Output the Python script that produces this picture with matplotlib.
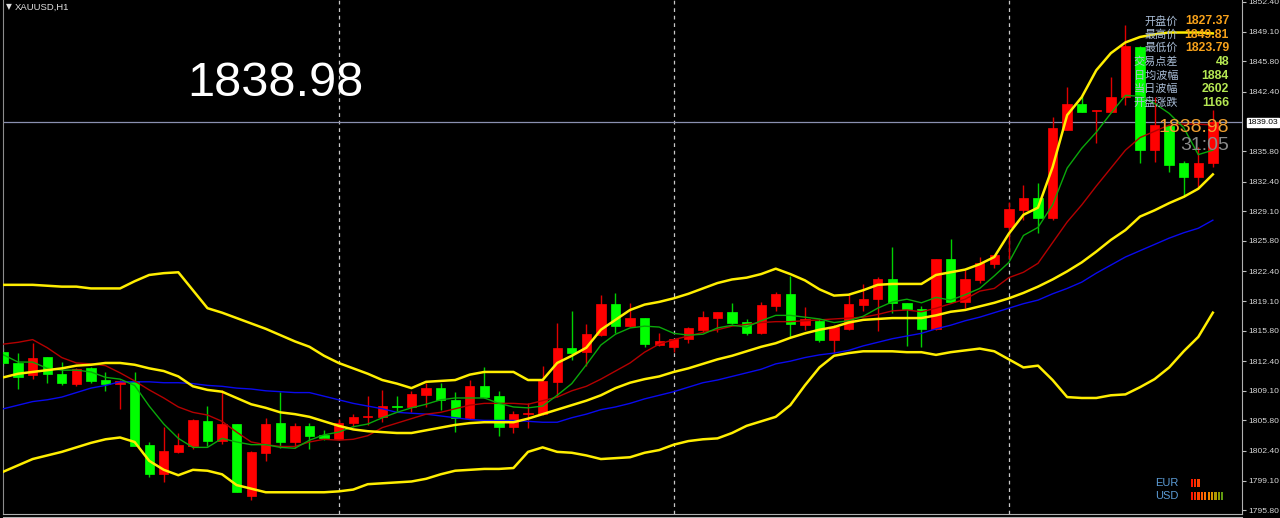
import matplotlib
matplotlib.use("Agg")
import matplotlib.pyplot as plt
import matplotlib.transforms as mtransforms
from matplotlib.lines import Line2D
import numpy as np

W, H = 1280, 518

symbol = "XAUUSD,H1"

opens = [1813.42, 1812.19, 1810.86, 1812.86, 1810.97, 1809.85, 1811.64, 1810.30, 1809.85, 1810.19,
         1803.06, 1799.83, 1802.28, 1802.95, 1805.73, 1803.51, 1805.40, 1797.38, 1802.17, 1805.51,
         1803.40, 1805.18, 1804.17, 1803.73, 1805.51, 1806.18, 1806.18, 1807.40, 1807.29, 1808.63,
         1809.41, 1808.07, 1806.07, 1809.63, 1808.52, 1805.07, 1806.51, 1806.51, 1810.08, 1813.86,
         1813.42, 1815.31, 1818.76, 1816.31, 1817.20, 1814.20, 1813.97, 1814.86, 1815.87, 1817.20,
         1817.87, 1816.76, 1815.53, 1818.54, 1819.88, 1816.42, 1816.87, 1814.75, 1815.98, 1818.65,
         1819.32, 1821.55, 1818.87, 1818.21, 1815.98, 1823.77, 1818.99, 1821.44, 1823.22, 1827.37,
         1829.23, 1830.57, 1828.34, 1838.14, 1841.03, 1840.26, 1840.14, 1841.81, 1847.38, 1835.91,
         1838.58, 1834.46, 1832.90, 1834.46]
highs = [1813.86, 1813.31, 1814.42, 1812.90, 1812.30, 1811.60, 1811.70, 1811.19, 1810.25, 1811.19,
         1803.40, 1805.07, 1804.40, 1805.96, 1807.40, 1809.19, 1805.45, 1802.35, 1806.07, 1808.96,
         1805.51, 1805.51, 1804.74, 1805.96, 1806.51, 1808.52, 1809.19, 1808.52, 1809.08, 1809.97,
         1809.97, 1808.96, 1810.30, 1811.75, 1809.08, 1806.85, 1807.74, 1811.86, 1816.65, 1817.98,
         1816.54, 1819.77, 1819.99, 1818.87, 1817.25, 1815.53, 1814.90, 1816.15, 1817.98, 1817.92,
         1818.87, 1817.09, 1818.99, 1820.10, 1821.88, 1818.43, 1817.09, 1816.42, 1819.88, 1820.99,
         1821.77, 1825.11, 1818.90, 1818.54, 1823.80, 1826.00, 1822.55, 1824.00, 1824.25, 1830.12,
         1832.01, 1832.24, 1839.59, 1842.93, 1841.93, 1840.40, 1844.04, 1849.81, 1847.49, 1841.81,
         1838.70, 1834.69, 1836.25, 1840.37]
lows = [1811.86, 1809.30, 1810.41, 1809.97, 1809.74, 1809.63, 1809.97, 1809.08, 1807.07, 1802.90,
        1799.50, 1798.94, 1802.17, 1802.61, 1802.95, 1803.17, 1797.80, 1796.94, 1801.28, 1802.73,
        1802.73, 1802.61, 1803.62, 1803.62, 1805.07, 1805.29, 1805.62, 1806.85, 1806.74, 1807.29,
        1806.96, 1804.51, 1806.00, 1808.35, 1804.06, 1804.40, 1804.96, 1806.40, 1808.41, 1812.53,
        1811.86, 1815.25, 1815.53, 1816.25, 1813.97, 1814.09, 1813.42, 1814.42, 1815.64, 1815.64,
        1816.54, 1815.31, 1815.48, 1817.98, 1815.09, 1815.87, 1814.53, 1813.31, 1815.90, 1817.98,
        1815.75, 1817.76, 1814.09, 1813.97, 1815.90, 1818.87, 1818.32, 1821.10, 1822.77, 1823.79,
        1828.12, 1826.67, 1828.12, 1838.10, 1840.10, 1836.69, 1840.10, 1840.92, 1834.46, 1834.58,
        1833.46, 1830.68, 1831.57, 1834.02]
closes = [1812.19, 1810.63, 1812.75, 1810.97, 1809.97, 1811.52, 1810.19, 1809.85, 1810.19, 1802.95,
          1799.83, 1802.39, 1803.06, 1805.85, 1803.51, 1805.40, 1797.83, 1802.28, 1805.40, 1803.40,
          1805.18, 1804.06, 1803.84, 1805.51, 1806.18, 1806.29, 1807.40, 1807.29, 1808.74, 1809.41,
          1808.07, 1806.07, 1809.63, 1808.41, 1805.07, 1806.51, 1806.62, 1810.19, 1813.86, 1813.31,
          1815.42, 1818.76, 1816.31, 1817.20, 1814.31, 1814.64, 1814.86, 1816.09, 1817.31, 1817.87,
          1816.65, 1815.53, 1818.65, 1819.88, 1816.54, 1817.09, 1814.75, 1816.20, 1818.76, 1819.32,
          1821.55, 1818.87, 1818.21, 1815.98, 1823.77, 1818.99, 1821.55, 1823.33, 1824.22, 1829.34,
          1830.57, 1828.34, 1838.36, 1841.03, 1840.14, 1840.37, 1841.81, 1847.49, 1835.91, 1838.70,
          1834.24, 1832.90, 1834.46, 1838.98]

bb_upper = [1820.9, 1820.9, 1820.9, 1820.8, 1820.7, 1820.7, 1820.5, 1820.5, 1820.5, 1821.3,
            1822.0, 1822.2, 1822.3, 1820.3, 1818.3, 1817.8, 1817.2, 1816.6, 1816.0, 1815.3,
            1814.6, 1814.0, 1813.0, 1812.2, 1811.6, 1811.0, 1810.3, 1809.9, 1809.4, 1810.1,
            1810.2, 1810.3, 1810.9, 1811.2, 1811.2, 1811.2, 1810.3, 1810.3, 1812.2, 1813.0,
            1813.9, 1815.9, 1817.0, 1818.1, 1818.7, 1819.0, 1819.4, 1819.9, 1820.5, 1821.1,
            1821.5, 1821.7, 1822.1, 1822.7, 1822.1, 1821.4, 1820.4, 1819.7, 1819.8, 1820.3,
            1820.9, 1821.0, 1821.0, 1821.0, 1822.0, 1822.3, 1822.6, 1823.2, 1824.0, 1826.6,
            1828.7, 1829.5, 1834.0, 1839.8, 1841.8, 1844.8, 1846.7, 1847.9, 1848.5, 1848.8,
            1849.0, 1849.0, 1849.0, 1848.9]
bb_middle = [1810.6, 1811.0, 1811.2, 1811.4, 1811.6, 1811.9, 1812.0, 1812.2, 1812.2, 1812.0,
             1811.6, 1811.3, 1810.7, 1809.6, 1809.2, 1809.0, 1808.3, 1807.6, 1807.2, 1806.7,
             1806.5, 1806.2, 1805.7, 1805.2, 1804.8, 1804.6, 1804.5, 1804.4, 1804.4, 1804.7,
             1805.0, 1805.3, 1805.5, 1805.6, 1805.6, 1805.6, 1806.0, 1806.5, 1807.0, 1807.5,
             1808.0, 1808.6, 1809.4, 1810.0, 1810.4, 1810.7, 1811.2, 1811.6, 1812.1, 1812.6,
             1813.0, 1813.5, 1814.0, 1814.4, 1815.0, 1815.5, 1815.9, 1816.2, 1816.7, 1817.0,
             1817.1, 1817.2, 1817.2, 1817.2, 1817.5, 1817.9, 1818.1, 1818.5, 1818.9, 1819.4,
             1820.0, 1820.7, 1821.5, 1822.4, 1823.4, 1824.6, 1825.9, 1827.0, 1828.5, 1829.2,
             1830.0, 1830.7, 1831.6, 1833.2]
bb_lower = [1800.1, 1800.8, 1801.5, 1801.9, 1802.3, 1802.8, 1803.3, 1803.7, 1803.9, 1803.4,
            1801.3, 1800.3, 1799.7, 1800.3, 1800.2, 1799.8, 1798.6, 1798.2, 1797.8, 1797.8,
            1797.8, 1797.8, 1797.8, 1797.9, 1798.1, 1798.7, 1798.8, 1798.9, 1799.0, 1799.3,
            1799.8, 1800.2, 1800.3, 1800.4, 1800.4, 1800.5, 1802.3, 1802.8, 1802.3, 1802.2,
            1801.9, 1801.5, 1801.6, 1801.7, 1802.2, 1802.5, 1803.1, 1803.5, 1803.7, 1803.8,
            1804.4, 1805.2, 1805.7, 1806.2, 1807.5, 1809.7, 1811.7, 1813.0, 1813.3, 1813.5,
            1813.5, 1813.5, 1813.4, 1813.4, 1813.1, 1813.4, 1813.6, 1813.8, 1813.5, 1812.6,
            1811.7, 1811.9, 1810.3, 1808.4, 1808.3, 1808.3, 1808.6, 1808.7, 1809.5, 1810.4,
            1811.7, 1813.5, 1815.1, 1817.8]
ma_blue = [1807.1, 1807.5, 1807.9, 1808.1, 1808.4, 1808.9, 1809.4, 1809.7, 1810.1, 1810.1,
           1810.1, 1810.0, 1810.0, 1809.9, 1809.7, 1809.6, 1809.4, 1809.3, 1809.1, 1809.0,
           1808.9, 1808.9, 1808.5, 1808.1, 1807.7, 1807.4, 1807.1, 1806.7, 1806.6, 1806.5,
           1806.3, 1806.1, 1805.9, 1805.8, 1805.8, 1805.8, 1805.7, 1805.6, 1805.6, 1806.1,
           1806.5, 1807.0, 1807.3, 1807.7, 1808.2, 1808.6, 1809.0, 1809.5, 1810.0, 1810.3,
           1810.7, 1811.1, 1811.5, 1812.1, 1812.4, 1812.8, 1813.1, 1813.3, 1813.6, 1814.1,
           1814.5, 1814.9, 1815.2, 1815.5, 1816.0, 1816.4, 1816.9, 1817.3, 1817.8, 1818.3,
           1818.8, 1819.2, 1819.9, 1820.5, 1821.2, 1822.2, 1823.1, 1824.0, 1824.7, 1825.4,
           1826.1, 1826.7, 1827.2, 1828.1]
ma_red = [1814.3, 1814.5, 1814.8, 1813.9, 1812.8, 1812.2, 1812.1, 1811.9, 1811.1, 1810.2,
          1809.2, 1808.3, 1807.3, 1806.7, 1806.4, 1805.7, 1804.5, 1803.4, 1803.1, 1802.9,
          1802.9, 1803.4, 1803.7, 1803.6, 1803.7, 1804.1, 1805.0, 1805.5, 1806.0, 1806.5,
          1806.7, 1807.1, 1807.5, 1807.7, 1807.7, 1807.7, 1807.6, 1808.0, 1808.4, 1809.1,
          1809.6, 1810.4, 1811.3, 1812.2, 1813.4, 1814.3, 1814.8, 1815.2, 1815.6, 1815.9,
          1816.3, 1816.5, 1816.7, 1816.8, 1816.8, 1816.9, 1817.0, 1817.1, 1817.2, 1817.3,
          1817.6, 1818.0, 1818.1, 1817.9, 1818.3, 1818.8, 1819.3, 1820.2, 1820.5, 1821.7,
          1822.3, 1823.3, 1825.6, 1827.9, 1829.8, 1831.9, 1833.9, 1835.9, 1837.3, 1838.0,
          1838.7, 1838.8, 1838.8, 1838.7]
ma_green = [1813.1, 1812.3, 1812.3, 1811.6, 1811.4, 1811.4, 1811.2, 1810.6, 1810.4, 1809.7,
            1807.4, 1805.4, 1803.8, 1802.8, 1802.8, 1803.8, 1803.4, 1803.1, 1803.1, 1802.8,
            1802.7, 1803.6, 1804.2, 1804.5, 1805.1, 1805.4, 1806.1, 1806.7, 1807.2, 1807.6,
            1808.1, 1808.3, 1808.3, 1808.3, 1807.7, 1807.3, 1807.2, 1807.4, 1808.6, 1809.9,
            1812.0, 1814.2, 1815.4, 1816.1, 1816.3, 1816.2, 1815.5, 1815.3, 1815.4, 1816.1,
            1816.4, 1816.2, 1816.9, 1817.5, 1817.5, 1817.3, 1817.1, 1816.7, 1816.9, 1817.4,
            1818.3, 1819.0, 1819.3, 1818.9, 1819.5, 1819.2, 1819.8, 1820.5, 1821.9, 1823.4,
            1826.4, 1827.3, 1829.8, 1833.9, 1836.1, 1837.9, 1840.0, 1842.0, 1841.9, 1841.1,
            1840.0, 1838.4, 1835.4, 1835.9]

day_starts = [23, 46, 69]
price_line = 1839.03
tick_values = [1852.40, 1849.10, 1845.80, 1842.40, 1835.80, 1832.40, 1829.10, 1825.80,
               1822.40, 1819.10, 1815.80, 1812.40, 1809.10, 1805.80, 1802.40, 1799.10, 1795.80]
tick_labels = ["1852.40", "1849.10", "1845.80", "1842.40", "1835.80", "1832.40", "1829.10",
               "1825.80", "1822.40", "1819.10", "1815.80", "1812.40", "1809.10", "1805.80",
               "1802.40", "1799.10", "1795.80"]

big_price = "1838.98"
timer = "31:05"
info_labels = ["开盘价", "最高价", "最低价", "交易点差", "日均波幅", "当日波幅", "开盘涨跌"]
info_values = ["1827.37", "1849.81", "1823.79", "48", "1884", "2602", "1166"]
info_colors = ["#f7a11a", "#f7a11a", "#f7a11a", "#b5e853", "#b5e853", "#b5e853", "#b5e853"]

meter_names = ["EUR", "USD"]
meter_levels = [3, 10]
meter_colors = ["#ff1500", "#ff2a00", "#ff4400", "#ff5a00", "#ff7000", "#f08400",
                "#d89400", "#b09a00", "#8a9c00", "#609a10"]

# ---------------------------------------------------------------
fig = plt.figure(figsize=(W / 100, H / 100), dpi=100, facecolor="black")
ax = fig.add_axes([3 / W, 4 / H, (1242 - 3) / W, (518 - 4) / H])
ax.set_facecolor("black")

o = np.array(opens); c = np.array(closes); hi = np.array(highs); lo = np.array(lows)
x = np.arange(len(o))
up = c >= o
body_col = np.where(up, "#ff0000", "#00ff00")
wick_col = np.where(up, "#e00000", "#00d000")

for d in day_starts:
    ax.axvline(d, color="#c8c8c8", lw=0.9, ls=(0, (3, 3)), zorder=1)
ax.axhline(price_line, color="#8a90b0", lw=0.9, zorder=1)

ax.vlines(x, lo, hi, colors=wick_col, lw=1.0, zorder=2)
ax.bar(x, np.maximum(np.abs(c - o), 0.04), bottom=np.minimum(o, c), width=0.64,
       color=body_col, edgecolor=body_col, lw=0.5, zorder=3)

ax.plot(x, ma_blue, color="#0a0aee", lw=1.0, zorder=4)
ax.plot(x, ma_red, color="#b40000", lw=1.0, zorder=4)
ax.plot(x, ma_green, color="#0aa80a", lw=1.0, zorder=4)
for band in (bb_upper, bb_middle, bb_lower):
    ax.plot(x, band, color="#ffee00", lw=1.8, zorder=5, solid_joinstyle="round")

ax.set_xlim(-0.034, 85.0)
ax.set_ylim(1795.38, 1852.62)
ax.set_xticks([])
ax.yaxis.tick_right()
ax.set_yticks(tick_values)
ax.set_yticklabels(tick_labels)
ax.tick_params(axis="y", direction="out", length=3, width=0.8, color="#c0c0c0",
               labelcolor="#d8d8d8", labelsize=6.1, pad=1.5)
for lab in ax.get_yticklabels():
    lab.set_fontfamily("Liberation Sans")
ax.spines["top"].set_visible(False)
ax.spines["left"].set_color("#8c8c8c")
ax.spines["right"].set_color("#b0b0b0")
ax.spines["bottom"].set_color("#b0b0b0")

trans = mtransforms.blended_transform_factory(ax.transAxes, ax.transData)
ax.annotate("1839.03", xy=(1.0, price_line), xycoords=trans, xytext=(4, 0),
            textcoords="offset points", ha="left", va="center", fontsize=6.1,
            family="Liberation Sans", color="black", zorder=10, annotation_clip=False,
            bbox=dict(boxstyle="square,pad=0.12", fc="white", ec="white"))

fig.add_artist(Line2D([3 / W, 1242 / W], [1.5 / H, 1.5 / H], color="#b0b0b0", lw=0.8))

# header
fig.text(6 / W, 1 - 7 / H, "▼", color="#e0e0e0", fontsize=5.5, va="center", ha="left")
fig.text(15 / W, 1 - 7 / H, symbol, color="#e0e0e0", fontsize=6.8, va="center", ha="left",
         family="Liberation Sans")

fig.text(275 / W, 1 - 84 / H, big_price, color="white", fontsize=35, ha="center", va="center",
         family="Liberation Sans")

# info panel
row_y = [21, 35, 48, 62, 76, 89, 103]
for lab, val, col, yy in zip(info_labels, info_values, info_colors, row_y):
    fig.text(1178 / W, 1 - yy / H, lab, color="#a9bdd6", fontsize=8, ha="right", va="center",
             family=["Noto Sans CJK SC", "DejaVu Sans"], zorder=20)
    fig.text(1229 / W, 1 - yy / H, val, color=col, fontsize=8.8, ha="right", va="center",
             family="Liberation Sans", fontweight="bold", zorder=20)

fig.text(1229 / W, 1 - 127 / H, big_price, color="#f0a030", fontsize=14, ha="right",
         va="center", family="Liberation Sans", zorder=20)
fig.text(1229 / W, 1 - 145 / H, timer, color="#8a8a8a", fontsize=14, ha="right",
         va="center", family="Liberation Sans", zorder=20)

# currency strength meter
for name, yy in zip(meter_names, [483, 496]):
    fig.text(1155 / W, 1 - yy / H, name, color="#5b9bd5", fontsize=8, ha="left", va="center",
             family="Liberation Sans")
axm = fig.add_axes([1190 / W, (518 - 502) / H, 34 / W, 25 / H])
axm.set_xlim(-0.5, 9.5)
axm.set_ylim(-0.5, 1.5)
axm.axis("off")
for row, n in zip([1, 0], meter_levels):
    axm.bar(np.arange(n), 0.64, bottom=row - 0.32, width=0.6, color=meter_colors[:n])

fig.savefig("out.png", dpi=100, facecolor="black")
